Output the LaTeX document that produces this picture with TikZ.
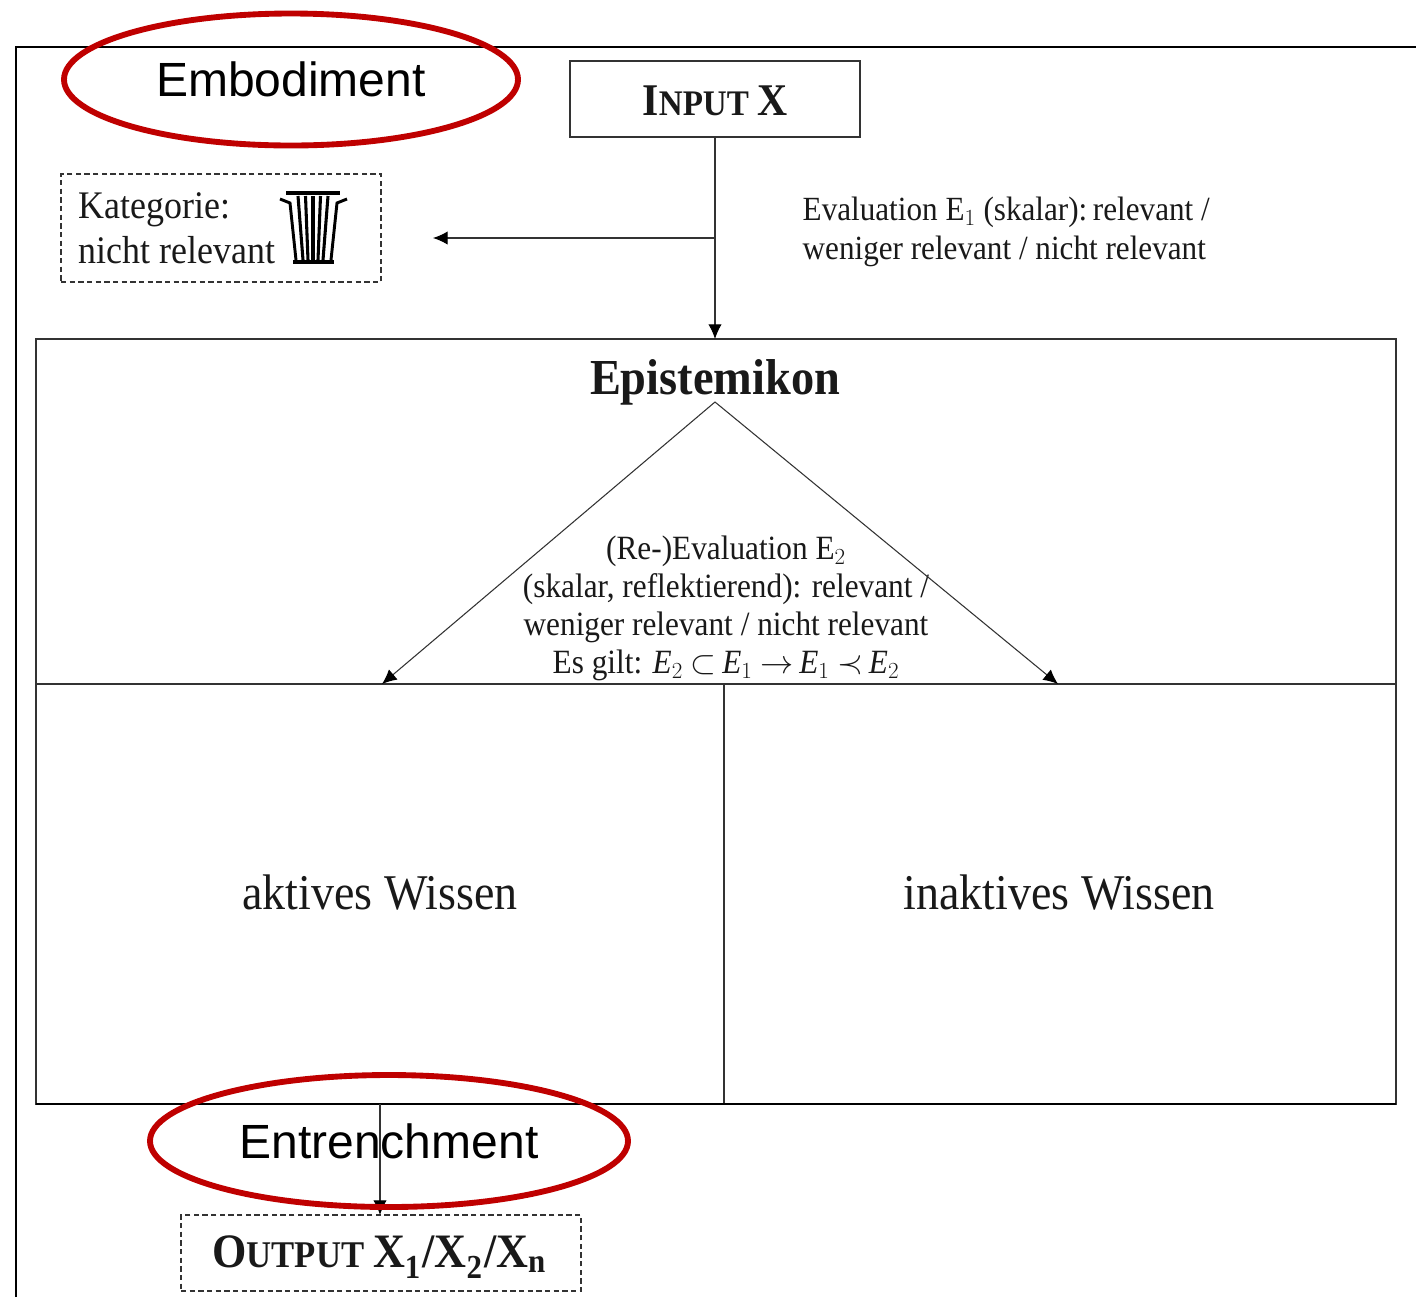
\documentclass[tikz,border=0pt]{standalone}
\usepackage{amsmath}
\usepackage{fontspec}
\setmainfont[FakeStretch=0.92]{Liberation Serif}
\newfontfamily\circlefont{Liberation Sans}
\usetikzlibrary{calc, arrows.meta, shapes.geometric}

\colorlet{line_gray}{black!80}
\tikzset{
    solid_box/.style={draw=line_gray, line width=0.8pt, inner sep=0pt},
    dashed_box/.style={draw=line_gray, line width=0.8pt, dash pattern=on 4pt off 2.5pt, inner sep=0pt},
    red_ring/.style={draw=red!75!black, ellipse, line width=4.4pt, inner sep=0pt, text=black, font=\circlefont\fontsize{36}{40}\selectfont},
    flow/.style={draw=line_gray, line width=0.8pt, -{Latex[length=11pt, width=10pt, color=black]}},
    plain_line/.style={draw=line_gray, line width=0.8pt},
}

\begin{document}
\begin{tikzpicture}[x=0.75pt, y=-0.75pt, every node/.style={align=center, text=black!90}]
            \useasboundingbox (0,0) rectangle (1416,1297);

            % outer frame
            \coordinate (frame_a) at (16,1297);
            \coordinate (frame_b) at (16,47);
            \coordinate (frame_c) at (1416,47);
            \draw [plain_line, draw=black] (frame_a) -- (frame_b) -- (frame_c);

            % boxes
            \node (input_x) at (715,99) [solid_box, minimum width=217.5pt, minimum height=57pt] {};
            \node (rubbish) at (221,228) [dashed_box, minimum width=240pt, minimum height=81pt] {};
            \node (episteme) at (716,721.5) [solid_box, minimum width=1020pt, minimum height=573.75pt] {};
            \node (output_x) at (381,1253) [dashed_box, minimum width=300pt, minimum height=57pt] {};

            % texts
            \node (input_text) at (715,101)
                {\bfseries\fontsize{34}{36}\selectfont I\fontsize{27}{36}\selectfont NPUT \fontsize{34}{36}\selectfont X};
            \node (output_text) at (380,1257)
                {\bfseries\fontsize{36}{36}\selectfont O\fontsize{28.3}{36}\selectfont UTPUT \fontsize{36}{36}\selectfont X$_{\mathbf 1}$/X$_{\mathbf 2}$/X$_{\mathbf n}$};
            \node (category) at (74,228) [anchor=west, align=left, font=\fontsize{29.3}{33.5}\selectfont]
                {Kategorie:\\nicht relevant};
            \node (eval_one) at (798,232) [anchor=west, align=left, font=\fontsize{25.4}{29.25}\selectfont]
                {Evaluation E$_1$ (skalar):\,relevant /\\weniger relevant / nicht relevant};
            \node (epi_title) at (715,382) {\bfseries\fontsize{37.8}{40}\selectfont Epistemikon};
            \node (eval_two) at (726,608) [font=\fontsize{25.5}{28.5}\selectfont]
                {(Re-)Evaluation E$_2$\\(skalar, reflektierend): relevant /\\weniger relevant / nicht relevant\\Es gilt: \textit{E}$_2$ $\subset$\,\textit{E}$_1$ $\rightarrow$\,\textit{E}$_1$ $\prec$\,\textit{E}$_2$};
            \node (active) at (380,893) {\fontsize{37.5}{40}\selectfont aktives Wissen};
            \node (inactive) at (1059,893) {\fontsize{37.5}{40}\selectfont inaktives Wissen};

            % inner lines
            \coordinate (split_a) at (36,684);
            \coordinate (split_b) at (1396,684);
            \coordinate (mid_a) at (724,684);
            \coordinate (mid_b) at (724,1104);
            \coordinate (base_a) at (36,1104);
            \coordinate (base_b) at (1396,1104);
            \draw [plain_line] (split_a) -- (split_b);
            \draw [plain_line] (mid_a) -- (mid_b);
            \draw [line width=2.2pt] (base_a) -- (base_b);

            % arrows
            \coordinate (branch) at (715,238);
            \coordinate (bin_tip) at (433,238);
            \coordinate (epi_in) at (715,339);
            \coordinate (apex) at (715,402);
            \coordinate (left_tip) at (382,684);
            \coordinate (right_tip) at (1058,684);
            \coordinate (out_start) at (380,1104);
            \coordinate (out_tip) at (380,1215);
            \draw [flow] (input_x) -- (epi_in);
            \draw [flow] (branch) -- (bin_tip);
            \draw [flow] (apex) -- (left_tip);
            \draw [flow] (apex) -- (right_tip);
            \draw [flow] (out_start) -- (out_tip);

            % rubbish bin
            \fill (286,191) rectangle (340,195);
            \fill (293,260) rectangle (334,264);
            \draw [line width=2.2pt] (280,199) -- (290,203) -- (296,260);
            \draw [line width=2.2pt] (347,199) -- (337,203) -- (331,260);
            \foreach \binx/\biny in {298/303, 305.5/308, 313/313, 320.5/318, 328/323}
                \draw [line width=2.3pt] (\binx,196) -- (\biny,260);

            % red rings with labels
            \node (embodiment) at (291,79.5) [red_ring, minimum width=340.5pt, minimum height=99pt] {Embodiment};
            \node (entrench) at (389,1141) [red_ring, minimum width=358.5pt, minimum height=99pt] {Entrenchment};
        \end{tikzpicture}
\end{document}
